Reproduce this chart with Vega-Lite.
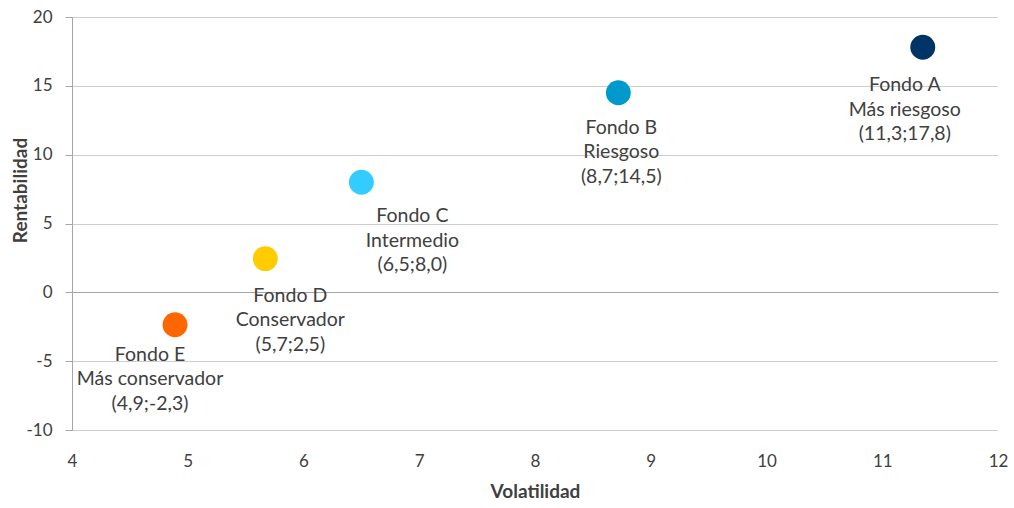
{
  "$schema": "https://vega.github.io/schema/vega-lite/v6.json",
  "autosize": "none",
  "width": 926,
  "height": 413,
  "padding": {"left": 72, "top": 17, "right": 16, "bottom": 78},
  "background": "white",
  "config": {
    "view": {"stroke": null},
    "font": "Lato",
    "axis": {"labelFont": "Lato", "titleFont": "Lato", "labelColor": "#404040", "titleColor": "#404040"}
  },
  "data": {
    "values": [
      {"fondo": "Fondo A", "volatilidad": 11.35, "rentabilidad": 17.8, "etiqueta": "Fondo A\nMás riesgoso\n(11,3;17,8)"},
      {"fondo": "Fondo B", "volatilidad": 8.72, "rentabilidad": 14.5, "etiqueta": "Fondo B\nRiesgoso\n(8,7;14,5)"},
      {"fondo": "Fondo C", "volatilidad": 6.5, "rentabilidad": 8.0, "etiqueta": "Fondo C\nIntermedio\n(6,5;8,0)"},
      {"fondo": "Fondo D", "volatilidad": 5.67, "rentabilidad": 2.45, "etiqueta": "Fondo D\nConservador\n(5,7;2,5)"},
      {"fondo": "Fondo E", "volatilidad": 4.89, "rentabilidad": -2.35, "etiqueta": "Fondo E\nMás conservador\n(4,9;-2,3)"}
    ]
  },
  "encoding": {
    "x": {
      "field": "volatilidad", "type": "quantitative",
      "scale": {"domain": [4, 12], "nice": false, "zero": false},
      "axis": {
        "title": "Volatilidad", "values": [4,5,6,7,8,9,10,11,12], "grid": false, "domain": false, "ticks": false,
        "labelFlush": false,
        "labelFontSize": 17, "labelPadding": 23, "titleFontSize": 19, "titleFontWeight": "bold", "titlePadding": 13
      }
    },
    "y": {
      "field": "rentabilidad", "type": "quantitative",
      "scale": {"domain": [-10, 20], "nice": false},
      "axis": {
        "title": "Rentabilidad", "values": [-10,-5,0,5,10,15,20],
        "labelExpr": "replace(datum.label, '−', '-')",
        "labelFlush": false,
        "domainColor": "#a6a6a6", "tickColor": "#a6a6a6", "tickSize": 7,
        "gridColor": {"condition": {"test": "datum.value === 0", "value": "#a6a6a6"}, "value": "#9a9a9a"},
        "gridDash": {"condition": {"test": "datum.value === 0", "value": []}, "value": [1, 1]},
        "gridWidth": 1,
        "labelFontSize": 17, "labelPadding": 13,
        "titleFontSize": 19, "titleFontWeight": "bold",
        "titleX": -52, "titleY": 173, "titleAlign": "center", "titleBaseline": "middle", "titleAngle": -90
      }
    }
  },
  "layer": [
    {
      "mark": {"type": "point", "filled": true, "opacity": 1, "size": 620},
      "encoding": {
        "color": {
          "field": "fondo", "type": "nominal", "legend": null,
          "scale": {"domain": ["Fondo A", "Fondo B", "Fondo C", "Fondo D", "Fondo E"],
                    "range": ["#003366", "#0099CC", "#33CCFF", "#FFCC00", "#FF6600"]}
        }
      }
    },
    {
      "transform": [{"filter": "datum.fondo === 'Fondo A'"}],
      "mark": {"type": "text", "lineBreak": "\n", "baseline": "middle", "align": "center", "fontSize": 19.5, "lineHeight": 24.5, "color": "#404040", "dx": -18, "dy": 38},
      "encoding": {"text": {"field": "etiqueta"}}
    },
    {
      "transform": [{"filter": "datum.fondo === 'Fondo B'"}],
      "mark": {"type": "text", "lineBreak": "\n", "baseline": "middle", "align": "center", "fontSize": 19.5, "lineHeight": 24.5, "color": "#404040", "dx": 3, "dy": 35},
      "encoding": {"text": {"field": "etiqueta"}}
    },
    {
      "transform": [{"filter": "datum.fondo === 'Fondo C'"}],
      "mark": {"type": "text", "lineBreak": "\n", "baseline": "middle", "align": "center", "fontSize": 19.5, "lineHeight": 24.5, "color": "#404040", "dx": 51, "dy": 34},
      "encoding": {"text": {"field": "etiqueta"}}
    },
    {
      "transform": [{"filter": "datum.fondo === 'Fondo D'"}],
      "mark": {"type": "text", "lineBreak": "\n", "baseline": "middle", "align": "center", "fontSize": 19.5, "lineHeight": 24.5, "color": "#404040", "dx": 25, "dy": 37},
      "encoding": {"text": {"field": "etiqueta"}}
    },
    {
      "transform": [{"filter": "datum.fondo === 'Fondo E'"}],
      "mark": {"type": "text", "lineBreak": "\n", "baseline": "middle", "align": "center", "fontSize": 19.5, "lineHeight": 24.5, "color": "#404040", "dx": -25, "dy": 30},
      "encoding": {"text": {"field": "etiqueta"}}
    }
  ]
}
